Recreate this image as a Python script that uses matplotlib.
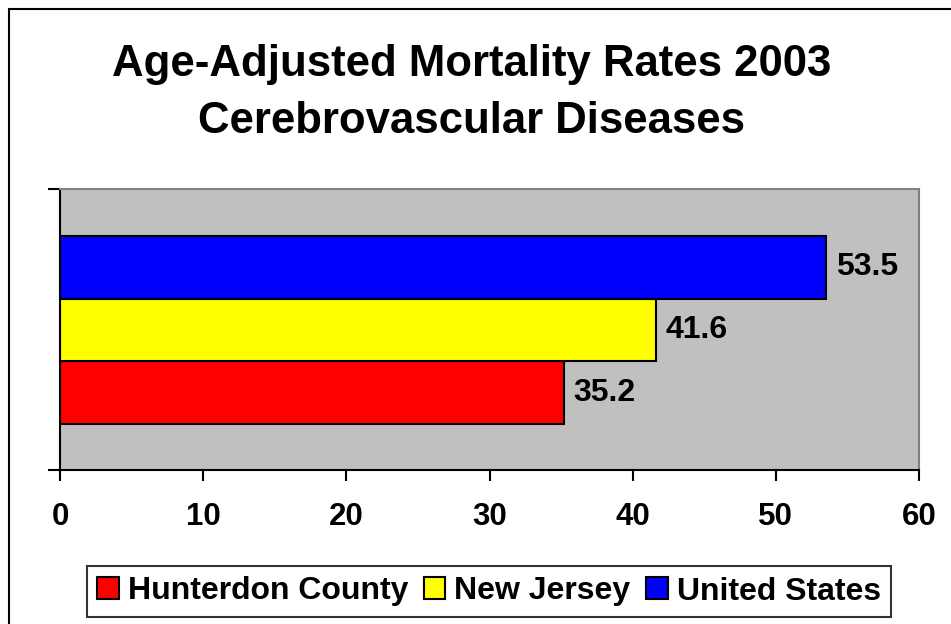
import matplotlib.pyplot as plt
from matplotlib.patches import Rectangle, Patch

plt.rcParams['font.family'] = ['Liberation Sans', 'DejaVu Sans']
plt.rcParams['font.weight'] = 'bold'

# data
series = ['Hunterdon County', 'New Jersey', 'United States']
rates = [35.2, 41.6, 53.5]
colors = ['#FF0000', '#FFFF00', '#0000FF']
xticks = [0, 10, 20, 30, 40, 50, 60]

fig = plt.figure(figsize=(9.51, 6.24), dpi=100)
ax = fig.add_axes([60 / 951, 154 / 624, 859 / 951, 281 / 624])
ax.set_facecolor('#C0C0C0')

# bars stacked bottom->top: Hunterdon, NJ, US
pos = [-1, 0, 1]
ax.barh(pos, rates, height=1.0, color=colors, edgecolor='black', linewidth=1.5)
for p, v in zip(pos, rates):
    ax.annotate(f'{v:.1f}', (v, p), xytext=(7, 0), textcoords='offset points',
                va='center', ha='left', fontsize=23, fontweight='bold')

ax.set_xlim(0, 60)
ax.set_ylim(-1.5 - 46 / 63, 1.5 + 47 / 63)
ax.set_xticks(xticks)
ax.set_xticklabels([str(t) for t in xticks], fontsize=22.5, fontweight='bold')
ax.set_yticks(ax.get_ylim())
ax.set_yticklabels([])
ax.tick_params(axis='x', direction='out', length=8, width=1.5, pad=15)
ax.tick_params(axis='y', direction='out', length=9, width=1.5)

for s in ['left', 'bottom']:
    ax.spines[s].set_color('black')
    ax.spines[s].set_linewidth(1.5)
for s in ['top', 'right']:
    ax.spines[s].set_color('#808080')
    ax.spines[s].set_linewidth(1.5)

# title
fig.text(472 / 951, 1 - 76 / 624, 'Age-Adjusted Mortality Rates 2003', ha='center',
         va='baseline', fontsize=31.5, fontweight='bold')
fig.text(472 / 951, 1 - 133 / 624, 'Cerebrovascular Diseases', ha='center',
         va='baseline', fontsize=31.5, fontweight='bold')

# legend
handles = [Patch(facecolor=c, edgecolor='black', linewidth=1.5) for c in colors]
leg = fig.legend(handles, series, loc='center', bbox_to_anchor=(489 / 951, 1 - 591.5 / 624),
                 ncol=3, frameon=True, fancybox=False, handlelength=0.68,
                 handleheight=0.68, handletextpad=0.28, columnspacing=0.48,
                 borderpad=0.33, prop={'weight': 'bold', 'size': 23})
leg.get_frame().set_edgecolor('black')
leg.get_frame().set_linewidth(1.5)

# outer chart border (right/bottom fall outside the image)
fig.patches.append(Rectangle((9 / 951, -0.1), 1.2, 1 - 9 / 624 + 0.1, transform=fig.transFigure,
                             fill=False, edgecolor='black', linewidth=1.5, clip_on=False))

fig.savefig('out.png', dpi=100)
